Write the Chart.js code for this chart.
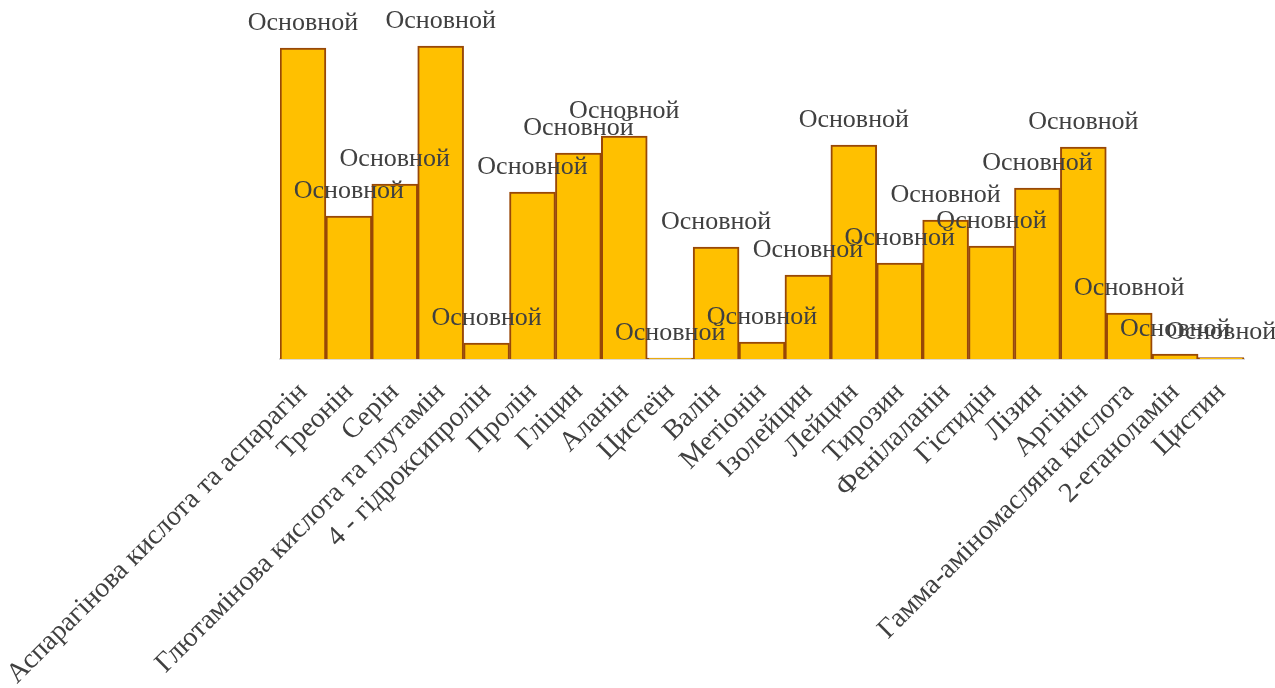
<!DOCTYPE html>
<html>
<head>
<meta charset="utf-8">
<script src="https://cdn.jsdelivr.net/npm/chart.js@4.4.0/dist/chart.umd.min.js"></script>
<style>
  html, body { margin: 0; padding: 0; background: #fff; }
  #wrap { width: 1275px; height: 688px; }
</style>
</head>
<body>
<div id="wrap"><canvas id="chart"></canvas></div>
<script>
// categories (x axis)
const categories = [
  "Аспарагінова кислота та аспарагін", "Треонін", "Серін",
  "Глютамінова кислота та глутамін", "4 - гідроксипролін", "Пролін",
  "Гліцин", "Аланін", "Цистеїн", "Валін", "Метіонін", "Ізолейцин",
  "Лейцин", "Тирозин", "Фенілаланін", "Гістидін", "Лізин", "Аргінін",
  "Гамма-аміномасляна кислота", "2-етаноламін", "Цистин"
];

// values
const values = [
  31.1, 14.3, 17.5, 31.3, 1.6, 16.7, 20.6, 22.3, 0.1, 11.2, 1.7,
  8.4, 21.4, 9.6, 13.9, 11.3, 17.1, 21.2, 4.6, 0.5, 0.15
];

// label shown above every bar
const barLabel = "Основной";

const serif = "'Times New Roman', 'Liberation Serif', serif";

const barLabels = {
  id: "barLabels",
  afterDatasetsDraw(chart) {
    const ctx = chart.ctx;
    const meta = chart.getDatasetMeta(0);
    ctx.save();
    ctx.font = "26px " + serif;
    ctx.fillStyle = "#404040";
    ctx.textAlign = "center";
    ctx.textBaseline = "middle";
    meta.data.forEach(bar => {
      ctx.fillText(barLabel, bar.x, bar.y - 25);
    });
    ctx.restore();
  }
};

new Chart(document.getElementById("chart"), {
  type: "bar",
  data: {
    labels: categories,
    datasets: [{
      data: values,
      backgroundColor: "#FFC000",
      borderColor: "#984807",
      borderWidth: 2,
      categoryPercentage: 1,
      barPercentage: 1
    }]
  },
  options: {
    responsive: true,
    maintainAspectRatio: false,
    animation: false,
    layout: { padding: { left: 280, right: 31, top: 0, bottom: 0 } },
    scales: {
      x: {
        grid: { display: false, drawTicks: false },
        border: { display: true, color: "#D9D9D9", width: 2 },
        ticks: {
          autoSkip: false,
          maxRotation: 45,
          minRotation: 45,
          padding: 17,
          color: "#404040",
          font: { family: serif, size: 28 }
        },
        afterFit(scale) {
          scale.paddingLeft = 0;
          scale.paddingRight = 0;
          scale.height = 329;
        }
      },
      y: {
        display: false,
        min: 0,
        max: 35.9
      }
    },
    plugins: {
      legend: { display: false },
      tooltip: { enabled: false }
    }
  },
  plugins: [barLabels]
});
</script>
</body>
</html>
